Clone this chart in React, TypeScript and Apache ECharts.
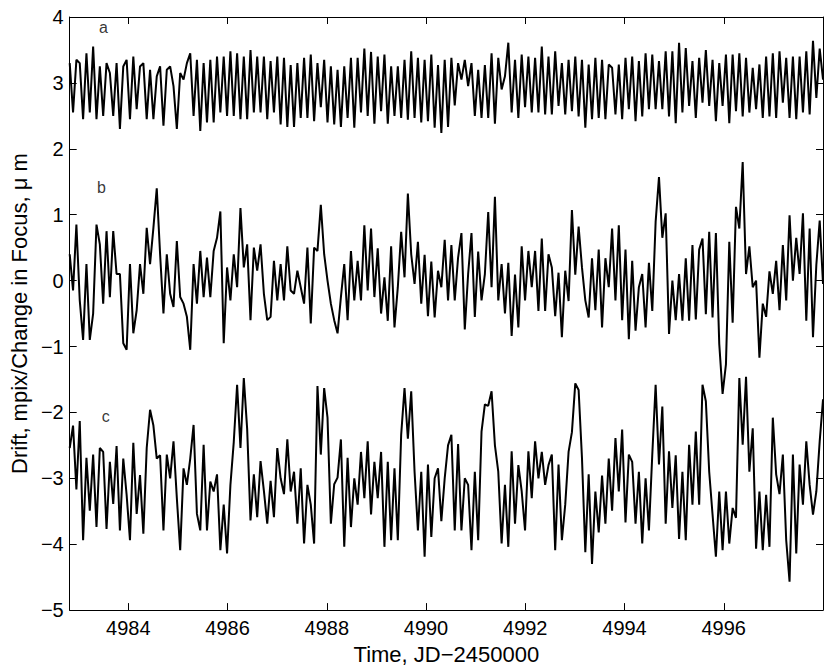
import React, { useEffect, useRef } from "react";
import * as echarts from "echarts";

// Time grid of the samples (JD - 2450000)
const T_START = 4982.82;
const T_STEP = 0.06747;
const X_MIN = 4982.82;
const X_MAX = 4998.0;
const X_TICKS = [4984, 4986, 4988, 4990, 4992, 4994, 4996];
const Y_MIN = -5;
const Y_MAX = 4;

// Curve a (offset +3)
const SERIES_A = [
  3.30, 2.55, 3.35, 3.30, 2.45, 3.45, 2.55, 3.55, 2.45, 3.25,
  2.50, 3.30, 3.15, 2.50, 3.30, 2.30, 3.25, 3.35, 2.45, 3.40,
  2.60, 3.25, 3.30, 2.45, 3.20, 2.45, 3.10, 3.25, 2.35, 3.20,
  3.25, 2.95, 2.30, 3.15, 3.05, 3.30, 3.45, 2.50, 3.35, 2.27,
  3.30, 2.40, 3.35, 2.40, 3.40, 2.55, 3.40, 2.50, 3.48, 2.50,
  3.45, 2.45, 3.40, 2.45, 3.50, 2.55, 3.40, 2.55, 3.40, 2.45,
  3.33, 2.55, 3.40, 2.37, 3.38, 2.33, 3.27, 2.33, 3.30, 2.47,
  3.38, 2.47, 3.43, 2.42, 3.30, 2.63, 3.35, 2.40, 3.25, 2.37,
  3.20, 2.33, 3.25, 2.47, 3.38, 2.32, 3.38, 2.55, 3.52, 2.50,
  3.47, 2.38, 3.40, 2.57, 3.43, 2.38, 3.25, 2.50, 3.25, 2.47,
  3.35, 2.44, 3.48, 2.47, 3.38, 2.40, 3.35, 2.42, 3.43, 2.32,
  3.27, 2.24, 3.35, 2.33, 3.38, 2.66, 3.30, 3.05, 3.35, 2.95,
  3.30, 2.50, 3.20, 2.47, 3.27, 2.47, 3.45, 2.38, 3.38, 2.90,
  3.10, 3.61, 2.55, 3.35, 2.47, 3.43, 2.63, 3.40, 2.55, 3.38,
  2.55,
  3.55, 2.52, 3.40, 2.52, 3.48, 2.65, 3.30, 2.52, 3.35,
  2.57, 3.40, 2.49, 3.35, 2.32, 3.28, 2.45, 3.38, 2.47, 3.35,
  2.45, 3.28, 3.23, 2.52, 3.28, 2.45, 3.38, 2.60, 3.40, 2.42,
  3.33, 2.49, 3.45, 2.60, 3.43, 2.60, 3.33, 2.60, 3.48, 2.49,
  3.48, 2.39, 3.61, 2.55, 3.53, 2.65, 3.33, 2.47, 3.38, 2.70,
  3.50, 2.65, 3.35, 2.42, 3.30, 2.65, 3.43, 2.39, 3.43, 2.57,
  3.45, 2.49, 3.38, 2.55, 3.23, 2.60, 3.28, 2.47, 3.40, 2.49,
  3.45, 2.47, 3.48, 2.70, 3.38, 2.47, 3.40, 2.45, 3.40, 2.55,
  3.48, 2.52, 3.64, 2.77, 3.52,
  3.05,
];

// Curve b (no offset)
const SERIES_B = [
  0.40, -0.15, 0.85, -0.30, -0.90, 0.25, -0.90, -0.50, 0.85, 0.55,
  -0.35, 0.75, -0.25, 0.75, 0.10, 0.10, -0.95, -1.05, 0.25, -0.80,
  -0.45, 0.25, -0.20, 0.80, 0.25, 0.80, 1.40, 0.40, -0.50, 0.40,
  -0.20, -0.40, 0.60, -0.25, -0.35, -0.55, -1.05, 0.25, -0.35, 0.45,
  -0.25, 0.35, -0.25, 0.45, 0.65, 1.05, -0.95, 0.20, -0.30, 0.40,
  -0.10, 1.10, 0.20, 0.55, -0.60, 0.50, 0.15, 0.55, -0.20, -0.60,
  -0.55, 0.30, -0.30, 0.25, -0.30, 0.52, -0.15, -0.20, 0.15, -0.10,
  -0.35, 0.50, -0.65, 0.50, 0.45, 1.15, 0.40, 0.00, -0.35, -0.60,
  -0.80, -0.25, 0.25, -0.60, 0.45, -0.30, 0.30, -0.30, 0.84, -0.15,
  0.79, -0.25, 0.49, -0.50, 0.05, -0.61, 0.52, -0.71, -0.10, 0.74,
  0.05, 1.32, 0.40, -0.05, 0.59, -0.35, 0.39, -0.54, 0.29, -0.56,
  0.15, -0.10, 0.62, -0.30, 0.54, -0.30, 0.35, 0.72, -0.74, 0.10,
  0.72, -0.55, 0.44, -0.30, 0.10, 1.04, -0.10, 1.27, -0.30, 0.25,
  -0.50, 0.27, -0.84, 0.09, -0.71, 0.52, -0.30, 0.45, -0.10, 0.45,
  -0.46, 0.64, -0.46, 0.40,
  0.20, -0.54, 0.12, -0.86, 0.15, -0.31, 1.07, 0.09, 0.82, 0.20,
  -0.30, -0.56, 0.34, -0.45, 0.47, -0.71, 0.34, -0.10, 0.79, -0.30,
  0.84, -0.60, 0.47, -0.89, 0.30, -0.76, -0.10, 0.10, -0.71, 0.27,
  -0.46, 0.89, 1.57, 0.65, 1.02, -0.81, 0.00, -0.60, 0.10, -0.61,
  0.34, -0.61, 0.54, -0.59, 0.47, 0.64, -0.51, 0.74, -0.56, 0.72,
  -0.96, -1.72, -1.27, 0.59, -0.64, 1.12, 0.79, 1.80, 0.10, 0.52,
  -0.10, 0.00, -1.17, -0.35, -0.55, 0.14, -0.20, 0.30, -0.45, 0.54,
  -0.30, 0.99, 0.00, 0.65, 0.10, 1.02, -0.61, 0.79, -0.86, 0.24,
  0.91, -0.05,
];

// Curve c (offset -3)
const SERIES_C = [
  -2.54, -2.20, -3.17, -2.13, -3.94, -2.69, -3.49, -2.64, -3.74, -2.54,
  -2.60, -3.77, -2.75, -3.39, -2.51, -3.79, -2.70, -3.25, -3.94, -2.46,
  -3.54, -2.95, -3.84, -2.54, -1.96, -2.20, -2.70, -2.65, -3.79, -2.64,
  -3.00, -2.44, -3.30, -4.09, -2.85, -3.10, -2.70, -2.19, -3.54, -3.79,
  -2.49, -3.79, -3.05, -3.20, -2.94, -4.09, -3.40, -4.14, -3.10, -2.45,
  -1.58, -2.54, -1.48, -2.25, -3.64, -2.94, -3.59, -2.74, -3.19, -3.69,
  -3.04, -3.59, -2.54, -3.00, -3.24, -2.41, -3.20, -2.90, -3.69, -2.85,
  -3.99, -3.10, -3.40, -3.99, -1.60, -2.64, -1.63, -2.08, -3.69, -3.09,
  -2.99, -2.41, -4.04, -2.69, -3.74, -3.00, -3.40, -2.60, -3.30, -2.44,
  -3.55, -2.75, -3.30, -2.60, -4.04, -2.75, -3.94, -2.85, -3.94, -2.34,
  -1.63, -2.40, -1.68, -2.90, -3.79, -2.90, -4.19, -2.79, -3.89, -3.00,
  -2.85, -3.65, -3.00, -2.50, -2.34, -3.79, -2.48, -3.79, -3.00, -3.10,
  -4.09, -2.90, -3.94, -2.29, -1.88, -1.90, -1.68, -2.50, -2.90, -3.99,
  -3.10, -4.04, -2.59, -3.69, -2.80, -3.20, -3.79, -2.59, -3.30, -2.44,
  -3.00, -2.60, -3.10, -2.80,
  -2.64, -4.09, -2.79, -3.94, -3.40, -2.60, -2.30, -1.56, -1.66, -2.69,
  -4.12, -2.94, -4.30, -3.20, -3.82, -2.96, -3.69, -2.70, -3.49, -2.39,
  -3.20, -2.26, -3.67, -2.64, -2.75, -3.69, -2.90, -3.99, -3.00, -3.79,
  -2.64, -1.58, -2.79, -1.91, -3.69, -2.59, -3.45, -2.65, -3.92, -2.90,
  -3.94, -2.49, -3.40, -2.29, -3.40, -1.58, -1.83, -2.90, -3.55, -4.19,
  -3.20, -4.09, -3.20, -3.99, -3.45, -3.60, -1.48, -2.49, -1.46, -2.90,
  -2.24, -4.07, -3.20, -4.09, -3.25, -4.04, -2.08, -2.94, -3.24, -2.64,
  -3.94, -4.57, -2.64, -4.14, -2.79, -3.40, -2.44, -3.10, -3.55, -3.20,
  -2.44, -1.80,
];

// Curve tags
const TAG_NAMES = ["a", "b", "c"];
const TAG_TIMES = [4983.5, 4983.46, 4983.545];
const TAG_VALUES = [3.84, 1.407, -2.06];

const FONT = "'Liberation Sans', Arial, Helvetica, sans-serif";
const minus = (s: string) => s.replace(/-/g, "\u2212");

function toPairs(vals: number[]) {
  return vals.map((v, i) => [+(T_START + i * T_STEP).toFixed(4), v]);
}

export default function App() {
  const ref = useRef<HTMLDivElement>(null);
  useEffect(() => {
    document.body.style.margin = "0";
    if (!ref.current) return;
    const chart = echarts.init(ref.current, null, { renderer: "svg" });
    const lineStyle = { color: "#000", width: 2 };
    const commonX = {
      type: "value",
      min: X_MIN,
      max: X_MAX,
      splitLine: { show: false },
      axisLine: { show: true, onZero: false, lineStyle: { color: "#000", width: 1 } },
    };
    const commonY = {
      type: "value",
      min: Y_MIN,
      max: Y_MAX,
      interval: 1,
      splitLine: { show: false },
      axisLine: { show: true, onZero: false, lineStyle: { color: "#000", width: 1 } },
    };
    chart.setOption({
      animation: false,
      backgroundColor: "#fff",
      grid: { left: 69, right: 7, top: 17, bottom: 57, containLabel: false },
      xAxis: [
        {
          ...commonX,
          position: "bottom",
          name: "Time, JD\u22122450000",
          nameLocation: "middle",
          nameGap: 28,
          nameTextStyle: { fontFamily: FONT, fontSize: 22, color: "#000" },
          axisTick: { show: true, inside: true, length: 7, customValues: X_TICKS, lineStyle: { color: "#000" } },
          axisLabel: {
            show: true,
            customValues: X_TICKS,
            margin: 8,
            fontFamily: FONT,
            fontSize: 20,
            color: "#000",
            formatter: (v: number) => String(v),
          },
        },
        {
          ...commonX,
          position: "top",
          axisTick: { show: true, inside: true, length: 7, customValues: X_TICKS, lineStyle: { color: "#000" } },
          axisLabel: { show: false },
        },
      ],
      yAxis: [
        {
          ...commonY,
          position: "left",
          name: "Drift, mpix/Change in Focus, \u03bc m",
          nameLocation: "middle",
          nameGap: 36,
          nameTextStyle: { fontFamily: FONT, fontSize: 22, color: "#000" },
          axisTick: { show: true, inside: true, length: 7, lineStyle: { color: "#000" } },
          axisLabel: {
            show: true,
            margin: 6,
            fontFamily: FONT,
            fontSize: 20,
            color: "#000",
            formatter: (v: number) => minus(String(v)),
          },
        },
        {
          ...commonY,
          position: "right",
          axisTick: { show: true, inside: true, length: 7, lineStyle: { color: "#000" } },
          axisLabel: { show: false },
        },
      ],
      series: [
        { name: "a", type: "line", data: toPairs(SERIES_A), showSymbol: false, symbol: "none", lineStyle, xAxisIndex: 0, yAxisIndex: 0 },
        { name: "b", type: "line", data: toPairs(SERIES_B), showSymbol: false, symbol: "none", lineStyle, xAxisIndex: 0, yAxisIndex: 0 },
        { name: "c", type: "line", data: toPairs(SERIES_C), showSymbol: false, symbol: "none", lineStyle, xAxisIndex: 0, yAxisIndex: 0 },
        {
          name: "tags",
          type: "scatter",
          symbolSize: 1,
          itemStyle: { color: "rgba(0,0,0,0)" },
          silent: true,
          label: {
            show: true,
            position: "inside",
            formatter: "{b}",
            fontFamily: FONT,
            fontSize: 16,
            color: "#000",
          },
          data: TAG_NAMES.map((n, i) => ({ name: n, value: [TAG_TIMES[i], TAG_VALUES[i]] })),
        },
      ],
    });
    return () => chart.dispose();
  }, []);
  return <div ref={ref} style={{ width: 830, height: 670 }} />;
}
